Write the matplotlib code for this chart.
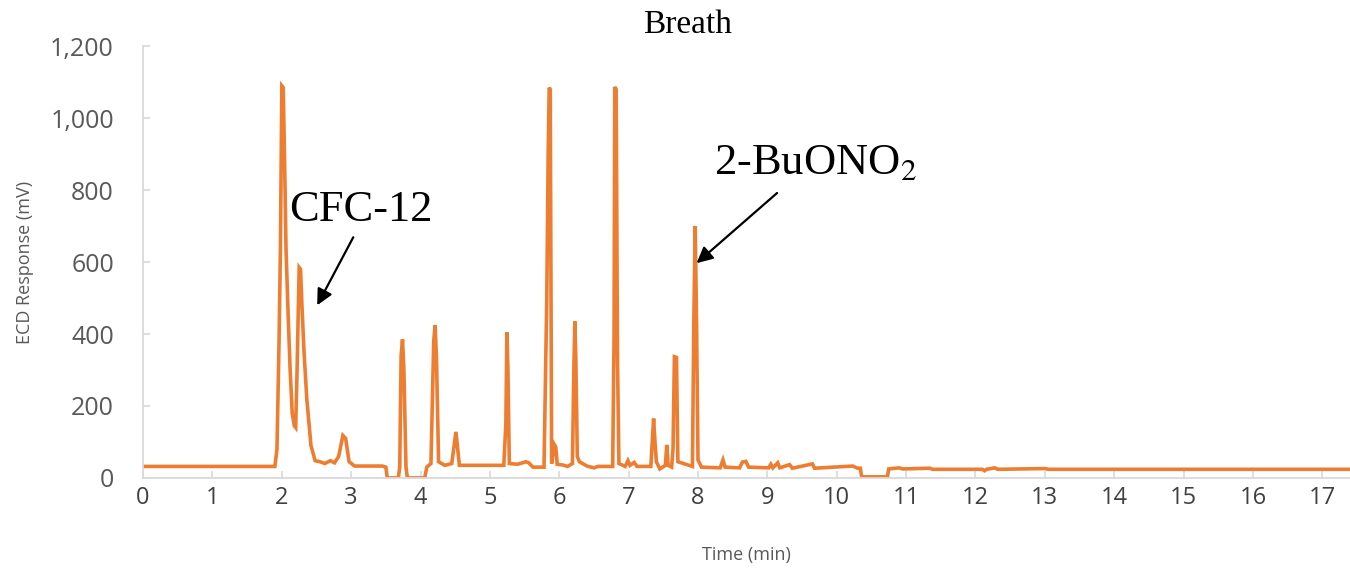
import matplotlib
matplotlib.use('Agg')
import matplotlib.pyplot as plt

# chromatogram: time (min), ECD response (mV)
time_min = [0.00, 1.90, 1.93, 1.96, 1.98, 2.00, 2.02, 2.04, 2.06, 2.09, 2.12, 2.15, 2.18, 2.20,
            2.22, 2.25, 2.27, 2.29, 2.32, 2.36, 2.42, 2.48, 2.55, 2.62, 2.70, 2.76, 2.82, 2.88,
            2.92, 2.97, 3.05, 3.45, 3.50, 3.52, 3.68, 3.70, 3.72, 3.74, 3.76, 3.79, 3.81, 4.06,
            4.09, 4.15, 4.19, 4.21, 4.23, 4.26, 4.35, 4.45, 4.49, 4.51, 4.53, 4.56, 5.20, 5.23,
            5.245, 5.26, 5.28, 5.40, 5.52, 5.56, 5.62, 5.78, 5.82, 5.84, 5.855, 5.87, 5.89, 5.93,
            5.95, 5.97, 6.05, 6.12, 6.19, 6.21, 6.225, 6.24, 6.26, 6.29, 6.40, 6.50, 6.56, 6.77,
            6.79, 6.80, 6.82, 6.84, 6.86, 6.95, 6.99, 7.02, 7.08, 7.12, 7.32, 7.34, 7.36, 7.38,
            7.40, 7.45, 7.53, 7.55, 7.57, 7.62, 7.64, 7.66, 7.69, 7.71, 7.92, 7.94, 7.96, 7.98,
            8.00, 8.05, 8.32, 8.36, 8.39, 8.60, 8.64, 8.69, 8.73, 9.02, 9.05, 9.08, 9.15, 9.18,
            9.32, 9.36, 9.65, 9.68, 10.23, 10.30, 10.34, 10.36, 10.73, 10.75, 10.90, 10.95, 11.34,
            11.38, 12.10, 12.13, 12.16, 12.28, 12.32, 13.00, 13.05, 17.40]
ecd_mv = [32, 32, 80, 380, 640, 1090, 1085, 880, 640, 460, 300, 180, 145, 140,
          300, 585, 580, 480, 350, 220, 90, 48, 45, 40, 48, 42, 60, 118,
          110, 45, 33, 33, 30, 0, 0, 30, 340, 385, 300, 30, 0, 0,
          30, 40, 380, 425, 330, 45, 35, 40, 100, 128, 90, 35, 35, 150,
          405, 300, 40, 38, 45, 42, 30, 30, 500, 900, 1085, 1080, 40, 92,
          85, 38, 36, 32, 40, 300, 435, 320, 60, 45, 33, 28, 32, 32,
          400, 1087, 1080, 320, 40, 32, 48, 35, 43, 32, 32, 97, 165, 100,
          45, 25, 35, 92, 35, 30, 80, 337, 335, 45, 32, 440, 700, 420,
          50, 30, 28, 50, 30, 28, 44, 46, 30, 28, 38, 28, 42, 28,
          37, 27, 39, 27, 33, 27, 27, 3, 3, 25, 28, 25, 27,
          24, 24, 20, 24, 28, 24, 26, 24, 24]

x_ticks = list(range(0, 18))
y_ticks = [0, 200, 400, 600, 800, 1000, 1200]
y_tick_labels = ['0', '200', '400', '600', '800', '1,000', '1,200']

plt.rcParams['mathtext.fontset'] = 'stix'

fig = plt.figure(figsize=(13.5, 5.71), dpi=100)
ax = fig.add_axes([0.106, 0.163, 0.894, 0.756])

ax.plot(time_min, ecd_mv, color='#ED7D31', linewidth=2.6, solid_joinstyle='miter')

ax.set_xlim(0, 17.4)
ax.set_ylim(0, 1200)
ax.set_xticks(x_ticks)
ax.set_yticks(y_ticks)
ax.set_yticklabels(y_tick_labels)

for side in ['top', 'right']:
    ax.spines[side].set_visible(False)
for side in ['left', 'bottom']:
    ax.spines[side].set_color('#d9d9d9')
    ax.spines[side].set_linewidth(1.3)

ax.tick_params(axis='x', direction='in', length=5, width=1.2, color='#d9d9d9',
               labelsize=17, labelcolor='#404040', pad=6)
ax.tick_params(axis='y', direction='in', length=5, width=1.2, color='#d9d9d9',
               labelsize=18, labelcolor='#595959', pad=21)
for lbl in ax.get_xticklabels() + ax.get_yticklabels():
    lbl.set_fontfamily('Open Sans')

ax.set_xlabel('Time (min)', fontsize=13, color='#595959', family='Open Sans', labelpad=26)
ax.set_ylabel('ECD Response (mV)', fontsize=13, color='#595959', family='Open Sans', labelpad=12)
fig.text(0.509, 0.957, 'Breath', fontsize=24, family='Liberation Serif', ha='center', va='center')

arrow_style = dict(arrowstyle='-|>', color='black', lw=1.6, mutation_scale=24, shrinkA=0, shrinkB=0)

ax.text(3.14, 744, 'CFC-12', fontsize=32, family='Liberation Serif', ha='center', va='center')
ax.annotate('', xy=(2.51, 480), xytext=(3.03, 669), arrowprops=arrow_style)

ax.text(9.69, 875, r'2-BuONO$_2$', fontsize=32, family='Liberation Serif', ha='center', va='center')
ax.annotate('', xy=(7.98, 597), xytext=(9.14, 792), arrowprops=arrow_style)

fig.savefig('out.png', dpi=100)
